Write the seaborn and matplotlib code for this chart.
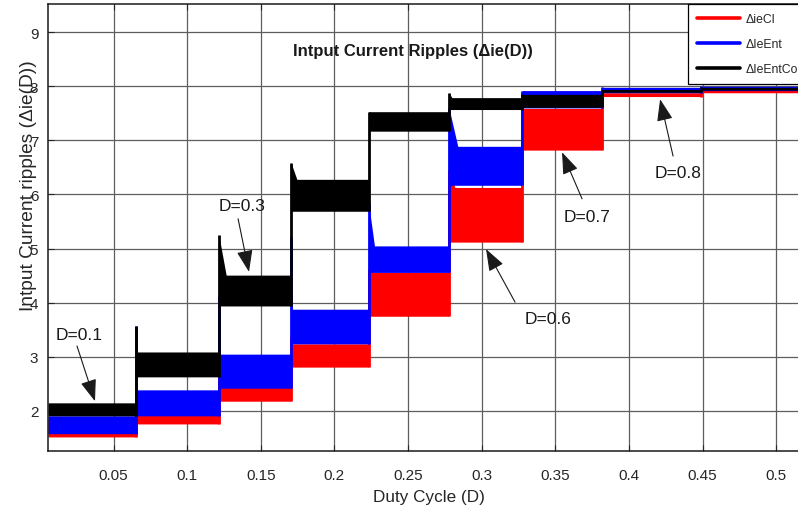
import matplotlib
matplotlib.use("Agg")
import matplotlib.pyplot as plt
from matplotlib.lines import Line2D
import seaborn as sns

# ---------------------------------------------------------------
# data (steps of the duty cycle)
# ---------------------------------------------------------------
seg_edges = [0.0055, 0.0655, 0.1215, 0.1705, 0.2232, 0.2778, 0.3275, 0.3815, 0.449, 0.523]

red_top = [1.85, 2.30, 2.95, 3.24, 4.56, 6.13, 7.59, 7.88, 7.93]
red_bot = [1.52, 1.76, 2.18, 2.81, 3.75, 5.12, 6.82, 7.81, 7.88]
red_peak = [1.85, 2.30, 2.95, 3.37, 4.62, 6.46, 7.59, 7.88, 7.93]
red_decay = [0, 0, 0, 0.001, 0.003, 0.004, 0, 0, 0]

blue_top = [1.91, 2.39, 3.05, 3.88, 5.05, 6.89, 7.92, 7.98, 8.00]
blue_bot = [1.58, 1.91, 2.42, 3.24, 4.56, 6.17, 7.60, 7.88, 7.92]
blue_peak = [1.91, 3.57, 4.12, 5.21, 5.85, 7.60, 7.92, 7.98, 8.00]
blue_decay = [0, 0.0008, 0.001, 0.0008, 0.004, 0.006, 0, 0, 0]

black_top = [2.15, 3.09, 4.51, 6.28, 7.53, 7.79, 7.85, 7.94, 7.98]
black_bot = [1.91, 2.63, 3.94, 5.69, 7.17, 7.57, 7.61, 7.89, 7.93]
black_peak = [2.15, 3.57, 5.25, 6.59, 7.53, 7.88, 7.85, 7.94, 7.98]
black_decay = [0, 0.0008, 0.005, 0.004, 0, 0.002, 0, 0, 0]

labels = ["\u0394ieCl", "\u0394IeEnt", "\u0394IeEntCom"]
colors = ["#ff0000", "#0000ff", "#000000"]

xtick_vals = [0.05, 0.1, 0.15, 0.2, 0.25, 0.3, 0.35, 0.4, 0.45, 0.5]
xtick_txt = ["0.05", "0.1", "0.15", "0.2", "0.25", "0.3", "0.35", "0.4", "0.45", "0.5"]
ytick_vals = [2, 3, 4, 5, 6, 7, 8, 9]

# (text, tip of arrow, tail of arrow, text centre) in data units
notes = [
    ("D=0.1", (0.0374, 2.18), (0.0252, 3.20), (0.0266, 3.42)),
    ("D=0.3", (0.1420, 4.57), (0.1346, 5.55), (0.1373, 5.79)),
    ("D=0.6", (0.3030, 4.99), (0.3227, 4.01), (0.3452, 3.70)),
    ("D=0.7", (0.3546, 6.78), (0.3682, 5.92), (0.3716, 5.60)),
    ("D=0.8", (0.4212, 7.76), (0.4300, 6.71), (0.4334, 6.41)),
]


def envelope(top, bot, peak, decay):
    xs, hi, lo = [], [], []
    for i in range(len(top)):
        x0, x1 = seg_edges[i], seg_edges[i + 1]
        xs.append(x0); hi.append(peak[i]); lo.append(bot[i])
        if decay[i] > 0:
            xs.append(x0 + decay[i]); hi.append(top[i]); lo.append(bot[i])
        xs.append(x1); hi.append(top[i]); lo.append(bot[i])
    return xs, hi, lo


sns.set_theme(style="whitegrid")
plt.rcParams["font.family"] = ["Liberation Sans", "DejaVu Sans"]

fig = plt.figure(figsize=(7.98, 5.10), dpi=100)
ax = fig.add_axes([48 / 798, 58 / 510, 762 / 798, 447 / 510])
ax.set_facecolor("white")

series = [
    (red_top, red_bot, red_peak, red_decay),
    (blue_top, blue_bot, blue_peak, blue_decay),
    (black_top, black_bot, black_peak, black_decay),
]
for (top, bot, peak, decay), c in zip(series, colors):
    xs, hi, lo = envelope(top, bot, peak, decay)
    ax.fill_between(xs, lo, hi, color=c, lw=0, zorder=2)
    # the waveform jumps between two steps
    ax.vlines(seg_edges[1:-1], bot[:-1], peak[1:], color=c, lw=2.0, zorder=2)

ax.set_xlim(0.0055, 0.523)
ax.set_ylim(1.26, 9.52)
ax.set_xticks(xtick_vals)
ax.set_xticklabels(xtick_txt)
ax.set_yticks(ytick_vals)
ax.grid(True, color="#5e5e5e", lw=0.9, zorder=0)
ax.set_axisbelow(True)
ax.tick_params(axis="x", direction="in", length=4, pad=12, labelsize=11,
               colors="#262626", bottom=True, top=True, width=0.8)
ax.tick_params(axis="y", direction="in", length=4, pad=7, labelsize=11,
               colors="#262626", left=True, right=True, width=0.8)
for sp in ax.spines.values():
    sp.set_color("#1a1a1a")
    sp.set_linewidth(1.1)

ax.set_xlabel("Duty Cycle (D)", fontsize=12.3, color="#262626")
ax.xaxis.set_label_coords(0.5, -0.086)
ax.xaxis.label.set_va("top")
ax.set_ylabel("Intput Current ripples (\u0394ie(D))", fontsize=13.8, color="#262626")
ax.yaxis.set_label_coords(-0.014, 0.595)

ax.text(0.479, 0.897, "Intput Current Ripples (\u0394ie(D))", transform=ax.transAxes,
        ha="center", va="center", fontsize=12, fontweight="bold", color="#1a1a1a")

for txt, tip, tail, pos in notes:
    ax.annotate("", xy=tip, xytext=tail,
                arrowprops=dict(arrowstyle="-|>,head_length=0.9,head_width=0.33",
                                color="k", lw=0.8, mutation_scale=15, shrinkA=0, shrinkB=0),
                zorder=5)
    ax.text(pos[0], pos[1], txt, ha="center", va="center", fontsize=12.5,
            color="#1a1a1a", zorder=5)

handles = [Line2D([0], [0], color=c, lw=2.6) for c in colors]
leg = ax.legend(handles, labels, loc="upper left", bbox_to_anchor=(0.84, 1.0),
                fontsize=8.8, handlelength=3.5, handletextpad=0.45, labelspacing=1.05,
                borderpad=0.75, borderaxespad=0, frameon=True, fancybox=False,
                framealpha=1, edgecolor="black")
leg.get_frame().set_linewidth(0.9)

fig.savefig("out.png", dpi=100)
